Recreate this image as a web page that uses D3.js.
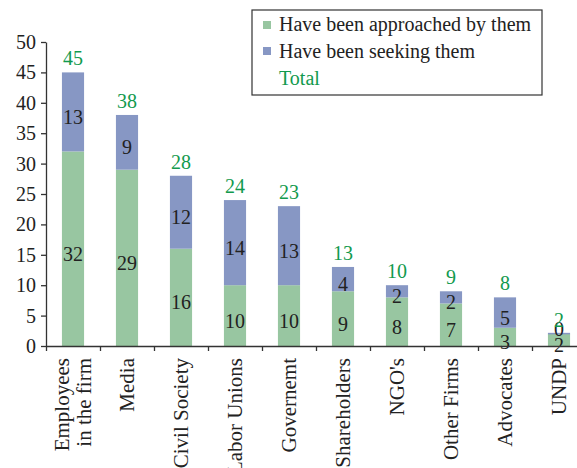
<!DOCTYPE html>
<html>
<head>
<meta charset="utf-8">
<script src="https://cdn.jsdelivr.net/npm/d3@7"></script>
<style>
  body { margin: 0; background: #fff; }
</style>
</head>
<body>
<div id="chart"></div>
<script>
const categories = [['Employees', 'in the firm'], ['Media'], ['Civil Society'], ['Labor Unions'], ['Governemt'],
  ['Shareholders'], ["NGO's"], ['Other Firms'], ['Advocates'], ['UNDP']];
const approached = [32, 29, 16, 10, 10, 9, 8, 7, 3, 2];
const seeking = [13, 9, 12, 14, 13, 4, 2, 2, 5, 0];
const totals = [45, 38, 28, 24, 23, 13, 10, 9, 8, 2];
const yTicks = [0, 5, 10, 15, 20, 25, 30, 35, 40, 45, 50];
const seriesNames = ['Have been approached by them', 'Have been seeking them', 'Total'];

const w = 577;
const h = 468;
const left = 46;
const green = '#98c6a1';
const blue = '#8797c4';
const totalColor = '#129a4e';
const numFont = '"Liberation Serif", serif';
const textFont = '"Liberation Serif", serif';

const names = categories.map(d => d.join(' '));

const svg = d3.select('#chart')
  .append('svg')
  .attr('width', w)
  .attr('height', h);

const x = d3.scaleBand()
  .domain(names)
  .range([left, left + 54 * names.length]);

const xEdge = d3.scaleLinear()
  .domain([0, names.length])
  .range([left, left + 54 * names.length]);

const y = d3.scaleLinear()
  .domain([0, 50])
  .range([346, 42]);

const barW = x.bandwidth() * 0.41;
const bx = (i) => x(names[i]) + (x.bandwidth() - barW) / 2;

// bars
svg.append('g')
  .selectAll('rect')
  .data(approached)
  .enter()
  .append('rect')
  .attr('x', (d, i) => bx(i))
  .attr('y', d => y(d))
  .attr('width', barW)
  .attr('height', d => y(0) - y(d))
  .style('fill', green);

svg.append('g')
  .selectAll('rect')
  .data(seeking)
  .enter()
  .append('rect')
  .attr('x', (d, i) => bx(i))
  .attr('y', (d, i) => y(approached[i] + d) - (d === 0 ? 1 : 0))
  .attr('width', barW)
  .attr('height', (d, i) => Math.max(1.5, y(approached[i]) - y(approached[i] + d)))
  .style('fill', blue);

// value labels
const cx = (i) => x(names[i]) + x.bandwidth() / 2;

svg.append('g')
  .selectAll('text')
  .data(approached)
  .enter()
  .append('text')
  .attr('x', (d, i) => cx(i))
  .attr('y', d => y(d / 2) + 12)
  .attr('text-anchor', 'middle')
  .style('font-family', numFont)
  .style('font-size', '20px')
  .style('fill', '#222')
  .text(d => d);

svg.append('g')
  .selectAll('text')
  .data(seeking)
  .enter()
  .append('text')
  .attr('x', (d, i) => cx(i))
  .attr('y', (d, i) => y(approached[i] + d / 2) + (d === 0 ? 2 : 12))
  .attr('text-anchor', 'middle')
  .style('font-family', numFont)
  .style('font-size', '20px')
  .style('fill', '#222')
  .text(d => d);

svg.append('g')
  .selectAll('text')
  .data(totals)
  .enter()
  .append('text')
  .attr('x', (d, i) => cx(i))
  .attr('y', d => y(d) - 7)
  .attr('text-anchor', 'middle')
  .style('font-family', numFont)
  .style('font-size', '20px')
  .style('fill', totalColor)
  .text(d => d);

// axes
const yAxis = d3.axisLeft(y)
  .tickValues(yTicks)
  .tickSize(5)
  .tickPadding(5)
  .tickSizeOuter(0);

const gy = svg.append('g')
  .attr('transform', 'translate(' + left + ',0)')
  .call(yAxis);
gy.selectAll('text')
  .style('font-family', numFont)
  .style('font-size', '20px')
  .style('fill', '#222');

const xAxis = d3.axisBottom(xEdge)
  .tickValues(d3.range(0, names.length + 1))
  .tickFormat('')
  .tickSize(5)
  .tickSizeOuter(0);

svg.append('g')
  .attr('transform', 'translate(0,' + y(0) + ')')
  .call(xAxis);

svg.selectAll('.domain, .tick line')
  .style('stroke', '#333')
  .style('stroke-width', 1.3);

// category labels
const labels = svg.append('g')
  .selectAll('text')
  .data(categories)
  .enter()
  .append('text')
  .attr('transform', (d, i) => 'translate(' + cx(i) + ',' + 358 + ') rotate(-90)')
  .attr('text-anchor', 'end')
  .style('font-family', textFont)
  .style('font-size', '21px')
  .style('fill', '#222');

labels.selectAll('tspan')
  .data(d => d.map((t, j) => ({ t, j, n: d.length })))
  .enter()
  .append('tspan')
  .attr('x', 0)
  .attr('dy', d => d.n === 1 ? '0.35em' : (d.j === 0 ? '-0.2em' : '1.05em'))
  .text(d => d.t);

// legend
const legend = svg.append('g');

legend.append('rect')
  .attr('x', 252)
  .attr('y', 10)
  .attr('width', 290)
  .attr('height', 85)
  .style('fill', '#fff')
  .style('stroke', '#333')
  .style('stroke-width', 1.2);

legend.selectAll('rect.key')
  .data([green, blue])
  .enter()
  .append('rect')
  .attr('class', 'key')
  .attr('x', 263)
  .attr('y', (d, i) => 21 + 26 * i)
  .attr('width', 8)
  .attr('height', 8)
  .style('fill', d => d);

legend.selectAll('text')
  .data(seriesNames)
  .enter()
  .append('text')
  .attr('x', 279)
  .attr('y', (d, i) => 31 + 27 * i)
  .style('font-family', textFont)
  .style('font-size', '20px')
  .style('fill', (d, i) => i === 2 ? totalColor : '#222')
  .text(d => d);
</script>
</body>
</html>
